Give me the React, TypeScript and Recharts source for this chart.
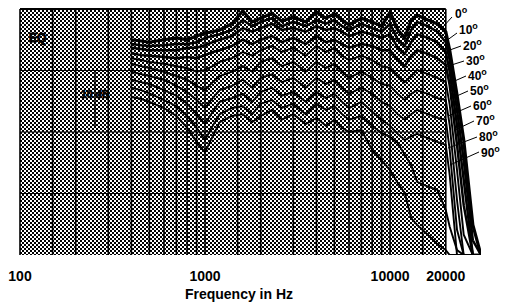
import React from "react";
import { LineChart, Line, XAxis, YAxis, ReferenceArea, ReferenceLine } from "recharts";

// frequency points (Hz) shared by all polar curves
const freqs = [
  400, 450, 500, 600, 700, 800, 900, 1000, 1100, 1200, 1400, 1600, 1800, 2000, 2300, 2600, 3000, 3500,
  4000, 4500, 5000, 5500, 6000, 7000, 8000, 9000, 10000, 11000, 12000, 13000, 14000, 16000, 18000,
  20000, 21000, 23000, 25000, 28000, 31000,
];

// level in dB relative to top of graph
const deg0 = [-5.0, -5.2, -5.4, -5.0, -4.7, -5.0, -4.4, -3.9, -3.7, -3.4, -2.4, -0.3, -2.1, -1.5, -0.7, -2.0, -1.3, -2.1, -0.5, -1.5, -0.8, -1.8, -2.6, -1.5, -2.1, -2.8, -0.5, -3.4, -4.7, -1.8, -1.0, -1.8, -2.4, -3.7, -6.7, -14.0, -21.3, -35.1, -40];
const deg10 = [-5.7, -5.9, -6.0, -5.9, -5.7, -5.7, -5.4, -4.7, -4.4, -4.1, -3.4, -1.8, -2.8, -2.1, -1.5, -2.8, -2.1, -2.8, -1.8, -2.4, -1.8, -2.8, -3.4, -2.4, -3.1, -3.7, -2.4, -5.0, -6.0, -3.4, -2.1, -2.8, -3.7, -5.4, -8.3, -16.4, -24.6, -37.6, -40];
const deg20 = [-6.3, -6.5, -6.7, -6.7, -6.7, -6.3, -6.3, -5.9, -5.4, -5.0, -4.4, -3.1, -3.7, -3.1, -2.4, -3.4, -3.1, -3.7, -2.8, -3.4, -3.1, -3.7, -4.4, -3.7, -4.1, -4.7, -4.1, -6.3, -7.3, -5.4, -4.1, -4.7, -5.4, -7.0, -10.2, -18.9, -27.8, -40, -40];
const deg30 = [-7.2, -7.5, -7.6, -7.8, -8.0, -7.8, -8.0, -7.5, -7.0, -6.7, -6.0, -5.0, -5.7, -5.0, -4.4, -5.4, -4.7, -5.7, -4.4, -5.4, -5.0, -5.7, -6.3, -5.7, -6.0, -6.7, -6.7, -8.3, -9.3, -7.6, -6.7, -7.3, -8.0, -9.1, -12.4, -22.1, -31.9, -40, -40];
const deg40 = [-8.0, -8.3, -8.6, -8.9, -9.3, -9.6, -10.2, -9.9, -9.3, -8.6, -8.0, -7.0, -7.6, -6.7, -6.0, -7.0, -6.3, -7.6, -6.0, -7.0, -6.3, -7.6, -8.3, -7.6, -8.3, -9.3, -9.6, -10.9, -11.9, -10.9, -9.9, -10.6, -11.2, -11.9, -15.6, -26.2, -36.7, -40, -40];
const deg50 = [-8.9, -9.3, -9.6, -10.2, -10.9, -11.5, -12.5, -13.2, -11.9, -10.9, -10.2, -9.3, -10.2, -8.6, -8.0, -9.3, -8.6, -10.2, -8.6, -9.6, -8.9, -10.2, -11.2, -10.2, -11.2, -12.2, -12.5, -13.8, -14.8, -13.8, -13.2, -13.8, -14.5, -14.8, -18.9, -31.1, -40, -40, -40];
const deg60 = [-10.2, -10.6, -10.9, -11.5, -12.5, -13.5, -14.8, -16.1, -14.5, -13.2, -12.5, -11.5, -12.8, -11.2, -10.6, -11.9, -11.2, -12.8, -11.2, -12.2, -11.5, -12.8, -13.8, -12.8, -13.8, -15.1, -15.8, -17.1, -18.0, -17.1, -16.4, -17.1, -17.7, -18.0, -22.9, -35.9, -40, -40, -40];
const deg70 = [-11.5, -11.9, -12.2, -13.2, -14.1, -15.4, -17.1, -18.7, -16.7, -15.1, -14.5, -13.8, -15.1, -13.5, -12.8, -14.1, -13.5, -15.1, -13.5, -14.5, -13.8, -15.1, -16.1, -15.1, -16.7, -18.0, -19.0, -20.3, -21.3, -20.7, -20.3, -21.0, -21.6, -22.1, -27.0, -40, -40, -40, -40];
const deg80 = [-12.8, -13.2, -13.7, -14.8, -15.8, -17.4, -19.3, -21.3, -19.0, -17.1, -16.1, -15.8, -17.1, -15.4, -14.8, -16.1, -15.4, -17.1, -15.4, -16.4, -15.8, -17.1, -18.0, -17.4, -19.0, -20.2, -20.8, -21.8, -23.7, -25.4, -28.1, -28.9, -29.4, -32.7, -35.4, -39.2, -40, -40, -40];
const deg90 = [-14.3, -14.6, -15.1, -16.1, -17.4, -19.3, -21.6, -23.3, -20.7, -18.4, -17.4, -17.1, -18.4, -17.4, -16.4, -18.0, -17.1, -18.7, -17.7, -19.0, -18.0, -19.3, -20.0, -19.7, -22.9, -24.6, -26.2, -28.3, -29.9, -34.0, -35.1, -36.7, -38.2, -39.2, -40, -40, -40, -40, -40];

const angles = ["0", "10", "20", "30", "40", "50", "60", "70", "80", "90"];
const curves = [deg0, deg10, deg20, deg30, deg40, deg50, deg60, deg70, deg80, deg90];

const xTicks = [100, 1000, 10000, 20000];
const gridFreqs = [
  100, 150, 200, 300, 400, 500, 600, 700, 800, 900, 1000, 1500, 2000, 3000, 4000, 5000, 6000, 7000,
  8000, 9000, 10000, 15000, 20000,
];
const levelLines = [0, -10, -20, -30];

const data = freqs.map((f, i) => {
  const row: Record<string, number> = { f };
  curves.forEach((c, k) => (row["a" + angles[k]] = c[i]));
  return row;
});

// label placement for the angle captions (annotation only)
const labelPos = [
  { tx: 455, ty: 18, x1: 452, y1: 17, x2: 442, y2: 28 },
  { tx: 459, ty: 34, x1: 457, y1: 33, x2: 446, y2: 41 },
  { tx: 463, ty: 50, x1: 461, y1: 46, x2: 447, y2: 51 },
  { tx: 466, ty: 65, x1: 464, y1: 61, x2: 442, y2: 68 },
  { tx: 468, ty: 80, x1: 466, y1: 76, x2: 450, y2: 83 },
  { tx: 470, ty: 95, x1: 468, y1: 91, x2: 450, y2: 99 },
  { tx: 473, ty: 110, x1: 471, y1: 106, x2: 448, y2: 116 },
  { tx: 476, ty: 125, x1: 474, y1: 121, x2: 455, y2: 130 },
  { tx: 479, ty: 141, x1: 477, y1: 137, x2: 448, y2: 148 },
  { tx: 481, ty: 157, x1: 479, y1: 152, x2: 450, y2: 165 },
];

const font = "Arial, 'Liberation Sans', Helvetica, sans-serif";

export default function App() {
  return (
    <div style={{ position: "absolute", left: 0, top: 0, width: 505, height: 304, background: "#fff" }}>
      <svg width={0} height={0} style={{ position: "absolute" }}>
        <defs>
          <pattern id="halftone" width={4} height={4} patternUnits="userSpaceOnUse">
            <rect width={4} height={4} fill="#fff" />
            <rect x={0} y={0} width={2} height={2} fill="#000" />
            <rect x={2} y={2} width={2} height={2} fill="#000" />
          </pattern>
        </defs>
      </svg>
      <LineChart width={505} height={304} data={data} margin={{ top: 9, right: 24, bottom: 19, left: 20 }}>
        <XAxis
          dataKey="f"
          type="number"
          scale="log"
          domain={[100, 31000]}
          allowDataOverflow
          ticks={xTicks}
          interval={0}
          axisLine={false}
          tickLine={false}
          tickMargin={10}
          height={30}
          tick={{ fontSize: 14, fontWeight: 700, fill: "#000", fontFamily: font }}
        />
        <YAxis hide domain={[-40, 0]} allowDataOverflow />
        <ReferenceArea x1={100} x2={20000} y1={-40} y2={0} fill="url(#halftone)" fillOpacity={1} stroke="none" />
        {gridFreqs.map((f) => (
          <ReferenceLine key={"v" + f} x={f} stroke="#000" strokeWidth={1.6} />
        ))}
        {levelLines.map((v) => (
          <ReferenceLine
            key={"h" + v}
            segment={[{ x: 100, y: v }, { x: 20000, y: v }]}
            stroke="#000"
            strokeWidth={v === 0 ? 2 : 1.2}
          />
        ))}
        {curves
          .map((_, k) => k)
          .reverse()
          .map((k) => (
            <Line
              key={angles[k]}
              dataKey={"a" + angles[k]}
              type="linear"
              stroke="#000"
              strokeWidth={k === 0 ? 3.2 : k < 4 ? 2.5 : 1.9}
              dot={false}
              isAnimationActive={false}
            />
          ))}
      </LineChart>
      <svg
        width={505}
        height={304}
        style={{ position: "absolute", left: 0, top: 0, pointerEvents: "none" }}
        fontFamily={font}
      >
        <text x={29} y={42} fontSize={12} fontWeight={700} fill="#000" stroke="#000" strokeWidth={0.8}>
          EQ
        </text>
        <line x1={95} y1={70} x2={95} y2={128} stroke="#000" strokeWidth={1.5} />
        <text x={81} y={98} fontSize={10.5} fontWeight={700} fill="#000" stroke="#000" strokeWidth={0.7}>
          10 dB
        </text>
        {labelPos.map((p, k) => (
          <g key={k}>
            <line x1={p.x1} y1={p.y1} x2={p.x2} y2={p.y2} stroke="#000" strokeWidth={1} />
            <text x={p.tx} y={p.ty} fontSize={12} fontWeight={700} fill="#000">
              {angles[k]}
              <tspan dy={-5} fontSize={9}>o</tspan>
            </text>
          </g>
        ))}
        <text x={239} y={299} fontSize={14} fontWeight={700} fill="#000" textAnchor="middle">
          Frequency in Hz
        </text>
      </svg>
    </div>
  );
}
